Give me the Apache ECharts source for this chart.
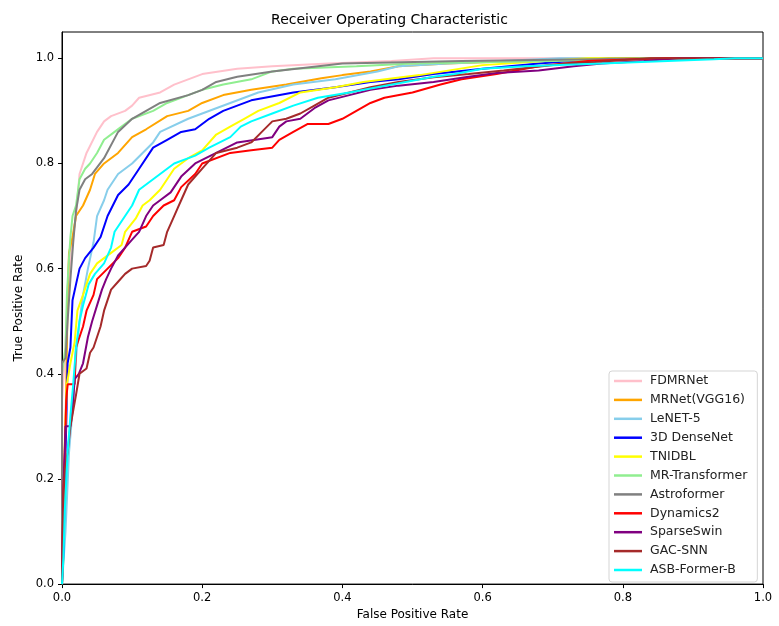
<!DOCTYPE html>
<html>
<head>
<meta charset="utf-8">
<script src="https://cdn.jsdelivr.net/npm/echarts@6/dist/echarts.min.js"></script>
<style>
  html, body { margin: 0; padding: 0; background: #fff; }
  #chart { width: 779px; height: 626px; }
</style>
</head>
<body>
<div id="chart"></div>
<script>
// ROC curves: [fpr, tpr]
var modelNames = ['FDMRNet', 'MRNet(VGG16)', 'LeNET-5', '3D DenseNet', 'TNIDBL', 'MR-Transformer',
	'Astroformer', 'Dynamics2', 'SparseSwin', 'GAC-SNN', 'ASB-Former-B'];
var modelColors = ['#ffc0cb', '#ffa500', '#87ceeb', '#0000ff', '#ffff00', '#90ee90',
	'#808080', '#ff0000', '#800080', '#a52a2a', '#00ffff'];

var fdmrnet = [[0,0],[0,0.35],[0.005,0.45],[0.008,0.55],[0.012,0.62],[0.02,0.7],[0.025,0.78],[0.035,0.82],
	[0.05,0.86],[0.06,0.88],[0.07,0.89],[0.09,0.9],[0.1,0.91],[0.11,0.925],[0.14,0.935],[0.16,0.95],
	[0.18,0.96],[0.2,0.97],[0.25,0.98],[0.3,0.985],[0.38,0.99],[0.47,0.995],[0.53,1.0],[1,1]];
var mrnet = [[0,0],[0.002,0.05],[0.003,0.15],[0.005,0.3],[0.007,0.45],[0.008,0.55],[0.01,0.63],[0.015,0.66],
	[0.02,0.7],[0.03,0.72],[0.04,0.75],[0.047,0.78],[0.06,0.8],[0.08,0.82],[0.1,0.85],[0.12,0.865],
	[0.15,0.89],[0.18,0.9],[0.2,0.915],[0.23,0.93],[0.27,0.94],[0.32,0.95],[0.37,0.962],[0.4,0.968],
	[0.44,0.975],[0.48,0.985],[0.55,0.99],[0.65,0.995],[0.76,1.0],[1,1]];
var lenet = [[0,0],[0.005,0.1],[0.01,0.25],[0.015,0.33],[0.02,0.43],[0.025,0.5],[0.03,0.55],[0.037,0.6],
	[0.045,0.65],[0.05,0.7],[0.06,0.73],[0.065,0.75],[0.08,0.78],[0.1,0.8],[0.115,0.82],[0.13,0.84],
	[0.14,0.86],[0.18,0.885],[0.2,0.895],[0.24,0.915],[0.28,0.935],[0.33,0.95],[0.39,0.96],[0.45,0.975],
	[0.48,0.985],[0.55,0.99],[0.71,1.0],[1,1]];
var denseNet = [[0,0],[0.002,0.06],[0.005,0.25],[0.006,0.3],[0.008,0.42],[0.012,0.45],[0.015,0.54],[0.02,0.57],
	[0.025,0.6],[0.033,0.62],[0.045,0.64],[0.055,0.66],[0.065,0.7],[0.08,0.74],[0.095,0.76],[0.11,0.79],
	[0.13,0.83],[0.15,0.845],[0.17,0.86],[0.19,0.865],[0.21,0.885],[0.23,0.9],[0.27,0.92],[0.33,0.935],
	[0.39,0.945],[0.44,0.955],[0.48,0.96],[0.53,0.97],[0.6,0.98],[0.68,0.99],[0.78,1.0],[1,1]];
var tnidbl = [[0,0],[0.002,0.1],[0.004,0.27],[0.007,0.38],[0.012,0.42],[0.018,0.46],[0.022,0.52],[0.03,0.55],
	[0.04,0.59],[0.05,0.61],[0.07,0.63],[0.085,0.645],[0.09,0.67],[0.105,0.695],[0.115,0.72],[0.125,0.73],
	[0.14,0.75],[0.15,0.77],[0.16,0.79],[0.18,0.81],[0.2,0.825],[0.22,0.855],[0.24,0.87],[0.26,0.885],
	[0.28,0.9],[0.31,0.915],[0.34,0.935],[0.39,0.945],[0.43,0.955],[0.51,0.968],[0.6,0.987],[0.75,1.0],[1,1]];
var mrTransformer = [[0,0],[0,0.4],[0.005,0.45],[0.007,0.55],[0.01,0.62],[0.012,0.66],[0.015,0.7],[0.02,0.72],
	[0.025,0.77],[0.033,0.79],[0.04,0.8],[0.05,0.82],[0.06,0.845],[0.075,0.86],[0.085,0.87],[0.1,0.885],
	[0.13,0.9],[0.15,0.915],[0.18,0.93],[0.2,0.94],[0.23,0.95],[0.27,0.96],[0.3,0.975],[0.33,0.98],
	[0.42,0.985],[0.5,0.99],[0.7,0.995],[0.86,1.0],[1,1]];
var astroformer = [[0,0],[0,0.42],[0.005,0.43],[0.008,0.5],[0.012,0.58],[0.016,0.65],[0.02,0.71],[0.025,0.75],
	[0.033,0.77],[0.043,0.78],[0.06,0.81],[0.08,0.86],[0.1,0.885],[0.12,0.9],[0.14,0.915],[0.18,0.93],
	[0.2,0.94],[0.22,0.955],[0.25,0.965],[0.3,0.975],[0.4,0.99],[0.57,0.995],[0.86,1.0],[1,1]];
var dynamics2 = [[0,0],[0.002,0.18],[0.004,0.25],[0.006,0.35],[0.008,0.38],[0.018,0.38],[0.02,0.45],[0.03,0.49],
	[0.035,0.52],[0.045,0.55],[0.05,0.58],[0.065,0.6],[0.08,0.62],[0.09,0.64],[0.1,0.67],[0.12,0.68],
	[0.13,0.7],[0.145,0.72],[0.16,0.73],[0.17,0.755],[0.19,0.78],[0.2,0.8],[0.24,0.82],[0.27,0.825],
	[0.3,0.83],[0.31,0.845],[0.33,0.86],[0.35,0.875],[0.38,0.875],[0.4,0.885],[0.42,0.9],[0.44,0.915],
	[0.46,0.925],[0.5,0.935],[0.54,0.95],[0.57,0.96],[0.62,0.97],[0.68,0.985],[0.75,0.995],[0.86,1.0],[1,1]];
var sparseSwin = [[0,0],[0.002,0.16],[0.003,0.22],[0.005,0.3],[0.012,0.3],[0.015,0.33],[0.018,0.39],[0.024,0.4],
	[0.03,0.42],[0.037,0.47],[0.043,0.5],[0.05,0.53],[0.057,0.56],[0.063,0.58],[0.07,0.6],[0.08,0.625],
	[0.09,0.64],[0.1,0.655],[0.11,0.67],[0.12,0.7],[0.13,0.72],[0.14,0.73],[0.155,0.745],[0.17,0.775],
	[0.19,0.8],[0.22,0.82],[0.25,0.84],[0.3,0.85],[0.31,0.87],[0.32,0.88],[0.34,0.885],[0.36,0.905],
	[0.38,0.92],[0.41,0.93],[0.44,0.94],[0.48,0.948],[0.53,0.955],[0.58,0.965],[0.62,0.972],[0.68,0.977],
	[0.73,0.985],[0.77,0.99],[0.83,0.995],[0.88,1.0],[1,1]];
var gacSnn = [[0,0],[0.002,0.17],[0.004,0.22],[0.008,0.25],[0.012,0.3],[0.016,0.33],[0.02,0.36],[0.025,0.4],
	[0.035,0.41],[0.04,0.44],[0.045,0.45],[0.05,0.47],[0.055,0.49],[0.06,0.52],[0.065,0.54],[0.07,0.56],
	[0.08,0.575],[0.09,0.59],[0.1,0.6],[0.12,0.605],[0.125,0.615],[0.13,0.64],[0.145,0.645],[0.15,0.67],
	[0.16,0.7],[0.165,0.715],[0.17,0.73],[0.18,0.76],[0.2,0.79],[0.22,0.82],[0.25,0.83],[0.27,0.84],
	[0.285,0.86],[0.3,0.88],[0.32,0.885],[0.34,0.895],[0.36,0.91],[0.38,0.925],[0.41,0.935],[0.44,0.945],
	[0.48,0.955],[0.53,0.964],[0.58,0.97],[0.63,0.977],[0.72,0.99],[0.76,0.993],[0.84,1.0],[1,1]];
var asbFormer = [[0,0],[0.002,0.05],[0.004,0.14],[0.008,0.25],[0.012,0.32],[0.016,0.38],[0.02,0.45],[0.025,0.5],
	[0.03,0.53],[0.038,0.57],[0.047,0.59],[0.06,0.61],[0.07,0.64],[0.075,0.67],[0.09,0.7],[0.1,0.72],
	[0.11,0.75],[0.13,0.77],[0.16,0.8],[0.19,0.815],[0.21,0.83],[0.24,0.85],[0.255,0.87],[0.27,0.88],
	[0.3,0.895],[0.33,0.91],[0.365,0.925],[0.41,0.935],[0.45,0.945],[0.49,0.955],[0.53,0.965],[0.56,0.97],
	[0.6,0.98],[0.66,0.985],[0.77,0.99],[0.93,0.998],[0.96,1.0],[1,1]];

var curves = [fdmrnet, mrnet, lenet, denseNet, tnidbl, mrTransformer, astroformer, dynamics2, sparseSwin, gacSnn, asbFormer];
var tickValues = [0, 0.2, 0.4, 0.6, 0.8, 1.0];

var chart = echarts.init(document.getElementById('chart'));
var font = 'DejaVu Sans';

var series = curves.map(function (pts, i) {
	return {
		name: modelNames[i],
		type: 'line',
		data: pts,
		symbol: 'none',
		color: modelColors[i],
		lineStyle: { width: 2, color: modelColors[i] },
		z: 2 + i
	};
});

var axisCommon = {
	type: 'value',
	min: 0,
	nameLocation: 'middle',
	nameTextStyle: { fontFamily: font, fontSize: 12, color: '#000' },
	axisLine: { show: true, lineStyle: { color: '#000', width: 1 } },
	axisTick: { show: true, inside: false, length: 4, customValues: tickValues, lineStyle: { color: '#000' } },
	axisLabel: {
		customValues: tickValues,
		fontFamily: font, fontSize: 11.5, color: '#000',
		formatter: function (v) { return v.toFixed(1); }
	},
	splitLine: { show: false }
};

chart.setOption({
	animation: false,
	backgroundColor: '#fff',
	title: {
		text: 'Receiver Operating Characteristic',
		left: 'center', top: 8,
		textStyle: { fontFamily: font, fontSize: 14, fontWeight: 'normal', color: '#000' }
	},
	grid: {
		left: 62, top: 32, right: 16, bottom: 37,
		show: true, borderColor: '#000', borderWidth: 1, backgroundColor: 'transparent'
	},
	legend: {
		orient: 'vertical',
		left: 609, top: 371,
		data: modelNames,
		icon: 'rect',
		itemWidth: 28, itemHeight: 2.5,
		itemGap: 4.9,
		padding: [3, 10, 5, 5],
		backgroundColor: '#fff',
		borderColor: '#d5d5d5', borderWidth: 1, borderRadius: 3,
		textStyle: { fontFamily: font, fontSize: 12.5, color: '#222', lineHeight: 14, padding: [0, 0, 0, 3] }
	},
	xAxis: Object.assign({}, axisCommon, {
		max: 1, name: 'False Positive Rate', nameGap: 24
	}),
	yAxis: Object.assign({}, axisCommon, {
		max: 1.05, name: 'True Positive Rate', nameGap: 35
	}),
	series: series
});
</script>
</body>
</html>
